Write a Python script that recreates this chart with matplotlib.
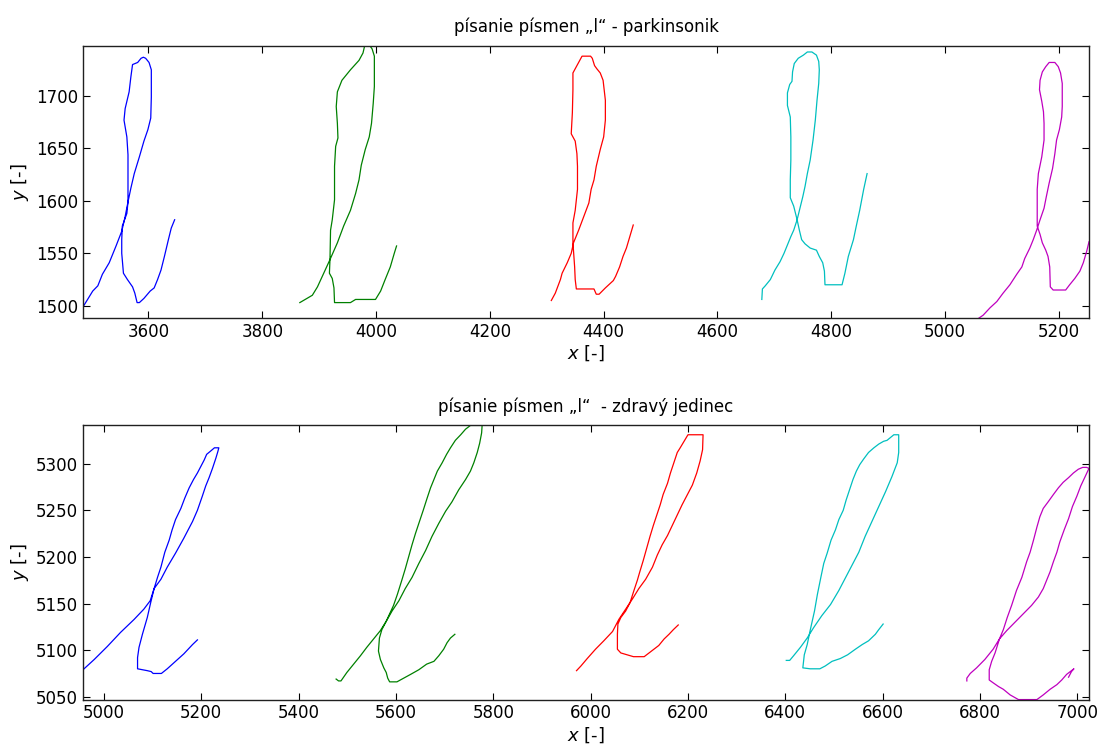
import matplotlib
matplotlib.use('Agg')
import matplotlib.pyplot as plt
from matplotlib.ticker import MultipleLocator

# --- parkinsonik: five written "l" letters ---
park_b_x = [3485, 3493, 3502, 3511, 3519, 3531, 3543, 3553, 3559, 3564, 3569, 3575, 3584, 3592, 3599, 3604,
            3605, 3605, 3601, 3595, 3591, 3587, 3581, 3572, 3569, 3566, 3559, 3557, 3562, 3564, 3564, 3564,
            3562, 3554, 3553, 3553, 3556, 3563, 3572, 3576, 3580, 3584, 3592, 3603, 3610, 3616, 3622, 3628,
            3635, 3640, 3646]
park_b_y = [1499, 1506, 1514, 1519, 1530, 1541, 1557, 1571, 1585, 1599, 1612, 1626, 1642, 1657, 1668, 1679,
            1699, 1725, 1732, 1736, 1737, 1736, 1732, 1730, 1718, 1704, 1688, 1677, 1661, 1644, 1620, 1599,
            1588, 1576, 1563, 1550, 1531, 1525, 1518, 1512, 1503, 1503, 1507, 1514, 1517, 1525, 1534, 1547,
            1563, 1574, 1582]

park_g_x = [3866, 3888, 3897, 3908, 3919, 3932, 3943, 3955, 3964, 3970, 3974, 3981, 3988, 3992, 3995, 3997,
            3997, 3993, 3989, 3980, 3977, 3970, 3955, 3940, 3932, 3930, 3932, 3933, 3929, 3927, 3927, 3923,
            3920, 3919, 3918, 3923, 3926, 3927, 3955, 3964, 3999, 4008, 4016, 4025, 4032, 4036]
park_g_y = [1503, 1510, 1518, 1531, 1544, 1560, 1576, 1591, 1607, 1620, 1634, 1649, 1661, 1674, 1693, 1709,
            1738, 1745, 1748, 1748, 1741, 1734, 1725, 1715, 1704, 1690, 1674, 1660, 1652, 1633, 1601, 1582,
            1572, 1544, 1531, 1526, 1517, 1503, 1503, 1506, 1506, 1514, 1525, 1537, 1550, 1557]

park_r_x = [4308, 4315, 4324, 4327, 4336, 4343, 4347, 4356, 4365, 4374, 4378, 4383, 4387, 4394, 4400, 4403,
            4403, 4399, 4394, 4388, 4384, 4380, 4377, 4362, 4358, 4350, 4346, 4346, 4345, 4343, 4350, 4353,
            4354, 4354, 4350, 4346, 4346, 4349, 4350, 4352, 4383, 4387, 4392, 4403, 4417, 4421, 4428, 4434,
            4440, 4446, 4452]
park_r_y = [1505, 1512, 1525, 1531, 1541, 1550, 1560, 1572, 1585, 1598, 1611, 1620, 1633, 1649, 1661, 1677,
            1696, 1715, 1722, 1726, 1729, 1736, 1738, 1738, 1734, 1726, 1722, 1706, 1684, 1664, 1657, 1645,
            1633, 1611, 1591, 1579, 1560, 1537, 1525, 1516, 1516, 1511, 1511, 1517, 1524, 1528, 1537, 1547,
            1555, 1566, 1577]

park_c_x = [4678, 4679, 4684, 4693, 4701, 4710, 4717, 4723, 4729, 4734, 4740, 4745, 4750, 4754, 4758, 4763,
            4768, 4772, 4775, 4778, 4779, 4778, 4774, 4766, 4758, 4751, 4742, 4735, 4732, 4731, 4727, 4723,
            4723, 4728, 4729, 4729, 4728, 4728, 4734, 4740, 4744, 4748, 4754, 4763, 4774, 4779, 4785, 4788,
            4789, 4819, 4824, 4830, 4839, 4844, 4850, 4857, 4863]
park_c_y = [1506, 1516, 1519, 1525, 1534, 1542, 1550, 1558, 1566, 1572, 1582, 1593, 1604, 1614, 1626, 1639,
            1658, 1677, 1696, 1712, 1725, 1733, 1739, 1742, 1742, 1739, 1736, 1731, 1723, 1714, 1711, 1703,
            1691, 1680, 1661, 1639, 1620, 1603, 1595, 1582, 1572, 1563, 1559, 1555, 1553, 1547, 1541, 1533,
            1520, 1520, 1531, 1547, 1563, 1576, 1591, 1611, 1626]

park_m_x = [5059, 5067, 5079, 5091, 5102, 5114, 5126, 5135, 5140, 5149, 5155, 5161, 5167, 5174, 5178, 5183,
            5189, 5193, 5196, 5201, 5205, 5206, 5206, 5203, 5199, 5193, 5183, 5177, 5171, 5167, 5166, 5170,
            5173, 5174, 5174, 5170, 5164, 5162, 5162, 5167, 5171, 5177, 5181, 5184, 5185, 5190, 5212, 5219,
            5228, 5237, 5243, 5249, 5253]
park_m_y = [1488, 1491, 1498, 1504, 1512, 1520, 1530, 1537, 1545, 1555, 1563, 1572, 1582, 1593, 1604, 1617,
            1631, 1645, 1658, 1668, 1680, 1690, 1712, 1722, 1728, 1732, 1732, 1728, 1723, 1715, 1706, 1695,
            1685, 1674, 1658, 1642, 1626, 1611, 1576, 1568, 1560, 1553, 1547, 1537, 1518, 1515, 1515, 1520,
            1526, 1533, 1541, 1552, 1561]

# --- zdravy jedinec: five written "l" letters ---
zdr_b_x = [4957, 4980, 5007, 5034, 5062, 5082, 5095, 5103, 5117, 5130, 5147, 5164, 5182, 5192, 5202, 5209,
           5216, 5223, 5230, 5234, 5236, 5227, 5218, 5211, 5206, 5199, 5192, 5184, 5175, 5166, 5158, 5147,
           5140, 5134, 5125, 5117, 5110, 5103, 5096, 5089, 5079, 5072, 5069, 5069, 5089, 5097, 5101, 5118,
           5130, 5147, 5164, 5182, 5192]
zdr_b_y = [5079, 5090, 5104, 5119, 5133, 5144, 5153, 5166, 5176, 5189, 5204, 5220, 5238, 5250, 5265, 5276,
           5285, 5295, 5306, 5313, 5317, 5317, 5313, 5310, 5304, 5297, 5290, 5283, 5274, 5263, 5252, 5240,
           5229, 5218, 5205, 5189, 5178, 5166, 5151, 5135, 5117, 5103, 5092, 5080, 5078, 5077, 5075, 5075,
           5080, 5088, 5096, 5106, 5111]

zdr_g_x = [5477, 5482, 5487, 5499, 5513, 5527, 5540, 5554, 5568, 5580, 5592, 5606, 5619, 5633, 5647, 5661,
           5674, 5688, 5702, 5715, 5729, 5743, 5753, 5760, 5767, 5772, 5776, 5777, 5753, 5743, 5733, 5722,
           5712, 5704, 5695, 5685, 5678, 5671, 5664, 5656, 5647, 5640, 5633, 5626, 5619, 5612, 5603, 5595,
           5587, 5580, 5571, 5566, 5564, 5568, 5575, 5580, 5583, 5587, 5602, 5616, 5630, 5647, 5663, 5678,
           5688, 5698, 5705, 5712, 5721]
zdr_g_y = [5069, 5067, 5067, 5076, 5085, 5094, 5103, 5112, 5121, 5131, 5142, 5153, 5166, 5178, 5193, 5207,
           5222, 5236, 5249, 5259, 5272, 5283, 5292, 5301, 5312, 5322, 5333, 5341, 5341, 5337, 5331, 5325,
           5317, 5310, 5301, 5292, 5283, 5274, 5263, 5250, 5236, 5225, 5213, 5200, 5187, 5175, 5160, 5148,
           5139, 5131, 5122, 5113, 5099, 5090, 5081, 5076, 5070, 5066, 5066, 5070, 5074, 5079, 5085, 5088,
           5094, 5101, 5108, 5113, 5117]

zdr_r_x = [5971, 5980, 5993, 6010, 6027, 6045, 6058, 6072, 6086, 6099, 6113, 6127, 6137, 6147, 6158, 6168,
           6178, 6188, 6199, 6209, 6218, 6225, 6230, 6231, 6200, 6192, 6184, 6178, 6171, 6164, 6158, 6149,
           6143, 6136, 6129, 6122, 6115, 6108, 6101, 6096, 6089, 6081, 6072, 6062, 6056, 6055, 6055, 6062,
           6075, 6088, 6110, 6120, 6130, 6140, 6151, 6161, 6170, 6180]
zdr_r_y = [5078, 5083, 5091, 5101, 5110, 5120, 5133, 5144, 5155, 5166, 5176, 5189, 5202, 5213, 5223, 5234,
           5245, 5256, 5267, 5277, 5290, 5303, 5315, 5331, 5331, 5324, 5317, 5312, 5301, 5290, 5279, 5267,
           5256, 5245, 5234, 5222, 5209, 5196, 5184, 5175, 5164, 5151, 5142, 5135, 5128, 5117, 5101, 5097,
           5095, 5093, 5093, 5097, 5101, 5105, 5112, 5117, 5122, 5127]

zdr_c_x = [6402, 6409, 6417, 6431, 6445, 6458, 6475, 6493, 6510, 6523, 6537, 6551, 6564, 6578, 6592, 6606,
           6619, 6630, 6633, 6633, 6623, 6616, 6609, 6602, 6592, 6582, 6571, 6561, 6553, 6546, 6539, 6532,
           6525, 6519, 6510, 6503, 6494, 6486, 6479, 6473, 6466, 6460, 6451, 6445, 6439, 6436, 6451, 6471,
           6482, 6496, 6513, 6528, 6544, 6558, 6571, 6585, 6592, 6601]
zdr_c_y = [5089, 5089, 5094, 5103, 5113, 5124, 5137, 5149, 5164, 5177, 5191, 5205, 5222, 5238, 5254, 5270,
           5286, 5301, 5312, 5331, 5331, 5328, 5325, 5324, 5321, 5317, 5312, 5305, 5299, 5292, 5283, 5272,
           5261, 5250, 5240, 5229, 5218, 5204, 5193, 5178, 5160, 5142, 5121, 5106, 5095, 5081, 5080, 5080,
           5083, 5088, 5091, 5095, 5101, 5106, 5110, 5117, 5122, 5128]

zdr_m_x = [6773, 6773, 6780, 6793, 6810, 6827, 6840, 6855, 6872, 6889, 6906, 6920, 6930, 6937, 6944, 6951,
           6958, 6964, 6973, 6982, 6990, 6999, 7007, 7016, 7024, 7019, 7011, 7002, 6992, 6982, 6971, 6961,
           6951, 6940, 6930, 6923, 6917, 6910, 6903, 6896, 6886, 6875, 6865, 6856, 6848, 6840, 6831, 6824,
           6819, 6819, 6827, 6838, 6848, 6862, 6879, 6917, 6930, 6944, 6958, 6968, 6978, 6988, 6993, 6988,
           6982]
zdr_m_y = [5067, 5070, 5075, 5081, 5090, 5101, 5112, 5121, 5130, 5139, 5148, 5157, 5166, 5175, 5184, 5195,
           5205, 5216, 5229, 5241, 5254, 5265, 5276, 5286, 5295, 5296, 5296, 5294, 5290, 5285, 5280, 5274,
           5267, 5259, 5252, 5243, 5232, 5218, 5205, 5195, 5178, 5164, 5148, 5135, 5122, 5112, 5097, 5088,
           5079, 5068, 5065, 5061, 5058, 5052, 5047, 5047, 5052, 5058, 5063, 5068, 5074, 5078, 5080, 5077,
           5071]

titles = ['písanie písmen „l“ - parkinsonik', 'písanie písmen „l“  - zdravý jedinec']
colors = ['#0000ff', '#008000', '#ff0000', '#00bfbf', '#bf00bf']

plt.rcParams['font.family'] = ['Liberation Sans Narrow', 'DejaVu Sans']
plt.rcParams['font.size'] = 12

fig = plt.figure(figsize=(10.97, 7.49), dpi=100)
ax1 = fig.add_axes([0.0757, 0.575, 0.917, 0.364])
ax2 = fig.add_axes([0.0757, 0.066, 0.917, 0.366])

park = [(park_b_x, park_b_y), (park_g_x, park_g_y), (park_r_x, park_r_y),
        (park_c_x, park_c_y), (park_m_x, park_m_y)]
zdr = [(zdr_b_x, zdr_b_y), (zdr_g_x, zdr_g_y), (zdr_r_x, zdr_r_y),
       (zdr_c_x, zdr_c_y), (zdr_m_x, zdr_m_y)]

for ax, letters, title in [(ax1, park, titles[0]), (ax2, zdr, titles[1])]:
    for (x, y), c in zip(letters, colors):
        ax.plot(x, y, color=c, lw=0.9)
    ax.autoscale(enable=True, axis='both', tight=True)
    ax.xaxis.set_major_locator(MultipleLocator(200))
    ax.yaxis.set_major_locator(MultipleLocator(50))
    ax.tick_params(direction='in', top=True, right=True, length=5, width=0.8, labelsize=12)
    for s in ax.spines.values():
        s.set_linewidth(1.0)
        s.set_color('#202020')
    ax.set_title(title, fontsize=12, pad=10)
    ax.set_xlabel('$x$ [-]', fontsize=13, labelpad=2)
    ax.set_ylabel('$y$ [-]', fontsize=13, labelpad=4)

fig.savefig('out.png', dpi=100)
